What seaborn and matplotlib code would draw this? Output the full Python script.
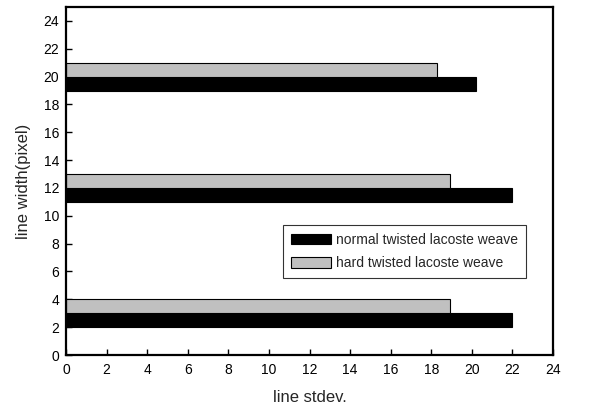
import matplotlib
matplotlib.use("Agg")
import matplotlib.pyplot as plt
import seaborn as sns
import pandas as pd

sns.set_style("white")
plt.rcParams['font.family'] = ['Liberation Sans', 'DejaVu Sans']

line_width = [3, 12, 20]
normal_stdev = [22.0, 22.0, 20.2]
hard_stdev = [18.9, 18.9, 18.3]
series = ["normal twisted lacoste weave", "hard twisted lacoste weave"]
colors = ["#000000", "#C0C0C0"]

df = pd.DataFrame({
    "line width": line_width * 2,
    "stdev": normal_stdev + hard_stdev,
    "series": [series[0]] * 3 + [series[1]] * 3,
})

fig = plt.figure(figsize=(5.97, 4.11), dpi=100)
ax = fig.add_axes([66/597, 1 - 355/411, (553-66)/597, (355-7)/411])

sns.barplot(data=df, x="stdev", y="line width", hue="series", hue_order=series,
            palette=colors, orient="h", native_scale=True, width=0.25,
            edgecolor="black", linewidth=0.8, errorbar=None, ax=ax)

ax.set_xlim(0, 24)
ax.set_ylim(0, 25)
ax.set_xticks(range(0, 25, 2))
ax.set_yticks(range(0, 25, 2))
ax.tick_params(axis="both", direction="in", length=4, width=1, labelsize=10,
               pad=5, colors="black", labelcolor="black",
               bottom=True, left=True, top=False, right=False)
ax.tick_params(axis="x", pad=6)
for s in ax.spines.values():
    s.set_visible(True)
    s.set_linewidth(1.6)
    s.set_color("black")

ax.set_xlabel("line stdev.", fontsize=12, labelpad=9)
ax.set_ylabel("line width(pixel)", fontsize=12, labelpad=9)

leg = ax.legend(loc="upper left", bbox_to_anchor=((283-66)/487, 1 - (225-7)/348),
                frameon=True, fancybox=False, edgecolor="black", fontsize=10,
                handlelength=2.9, handleheight=0.75, borderpad=0.55,
                handletextpad=0.4, labelspacing=0.7, borderaxespad=0)
leg.get_frame().set_linewidth(0.8)

fig.savefig("out.png", dpi=100)
